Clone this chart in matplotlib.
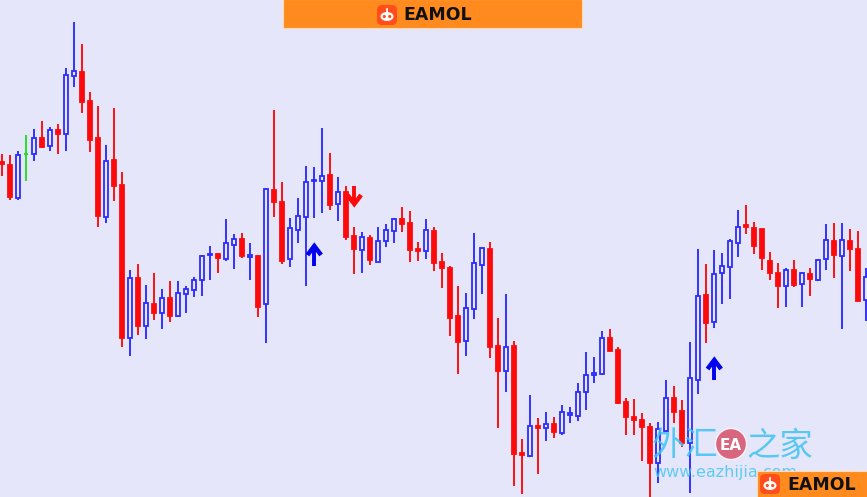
import numpy as np
import matplotlib
matplotlib.use('Agg')
import matplotlib.pyplot as plt
from matplotlib.patches import Rectangle, FancyBboxPatch, Ellipse, Circle

plt.rcParams['font.family'] = ['Noto Sans CJK SC', 'DejaVu Sans']

# price levels in points, one value per bar
opens = [338, 335, 302, 346, 346, 362, 354, 370, 366, 424,
         428, 399, 362, 283, 340, 315, 162, 222, 174, 196,
         187, 202, 184, 206, 210, 220, 245, 246, 241, 255,
         261, 243, 244, 196, 310, 298, 241, 270, 283, 319,
         319, 325, 296, 308, 264, 250, 262, 238, 259, 269,
         281, 277, 251, 249, 269, 238, 232, 184, 159, 191,
         235, 251, 154, 129, 154, 47, 44, 74, 72, 76,
         67, 85, 84, 108, 125, 126, 162, 150, 98, 83,
         80, 73, 37, 69, 102, 89, 57, 120, 205, 178,
         227, 233, 257, 275, 272, 271, 239, 227, 214, 230,
         216, 226, 220, 241, 259, 244, 259, 251, 200]
highs = [346, 345, 349, 365, 371, 379, 373, 376, 432, 478,
         456, 408, 394, 355, 392, 328, 230, 236, 215, 227,
         211, 219, 219, 214, 223, 245, 254, 247, 281, 266,
         267, 257, 245, 312, 390, 318, 282, 302, 334, 333,
         372, 347, 323, 314, 273, 268, 265, 273, 276, 282,
         293, 289, 258, 281, 273, 247, 234, 214, 207, 267,
         252, 258, 182, 206, 159, 61, 105, 82, 88, 83,
         95, 93, 117, 148, 143, 169, 171, 153, 102, 101,
         87, 77, 78, 120, 114, 100, 158, 251, 236, 250,
         247, 261, 290, 295, 278, 271, 248, 237, 232, 240,
         228, 232, 241, 276, 277, 277, 271, 269, 232]
lows = [324, 300, 300, 319, 339, 352, 349, 346, 349, 413,
        387, 348, 273, 277, 299, 153, 144, 165, 161, 180,
        171, 178, 183, 187, 203, 204, 220, 227, 239, 231,
        242, 220, 183, 157, 283, 236, 233, 257, 214, 282,
        287, 290, 279, 260, 226, 227, 235, 238, 253, 257,
        268, 238, 239, 241, 229, 212, 164, 126, 144, 181,
        206, 142, 72, 108, 14, 6, 43, 26, 59, 62,
        65, 77, 79, 90, 117, 125, 149, 96, 65, 65,
        39, 2, 17, 68, 77, 53, 7, 106, 157, 172,
        196, 201, 243, 266, 246, 230, 220, 192, 193, 213,
        193, 204, 219, 230, 222, 171, 229, 199, 179]
closes = [336, 303, 345, 346, 362, 353, 370, 366, 425, 429,
          398, 360, 284, 339, 314, 162, 222, 174, 197, 187,
          202, 184, 207, 211, 220, 244, 246, 242, 257, 261,
          244, 245, 193, 311, 298, 239, 272, 284, 318, 320,
          324, 295, 308, 263, 251, 263, 240, 259, 270, 281,
          276, 250, 249, 270, 237, 232, 182, 158, 192, 237,
          252, 153, 129, 153, 46, 45, 74, 72, 76, 68,
          88, 87, 108, 125, 127, 162, 149, 97, 83, 80,
          73, 37, 71, 102, 88, 57, 122, 204, 177, 226,
          234, 259, 273, 273, 254, 242, 227, 214, 230, 215,
          227, 221, 240, 260, 245, 260, 251, 199, 223]

# signal arrows: bar index and price of the arrow tip
buy_bars = [39, 89]
buy_tips = [254, 140]
sell_bars = [44]
sell_tips = [296]

BG = '#E6E6FA'
UP = '#2B2BFF'
DN = '#FF0A0A'
DOJI = '#22DD22'

W, H = 867, 497
fig = plt.figure(figsize=(W / 100, H / 100), dpi=100, facecolor=BG)
ax = fig.add_axes([0, 0, 1, 1])
ax.set_axis_off()

bw = 0.48
for i in range(len(opens)):
    o, h, l, c = opens[i], highs[i], lows[i], closes[i]
    if c > o:
        col, fc = UP, BG
    elif c < o:
        col, fc = DN, DN
    else:
        col, fc = DOJI, DOJI
    ax.vlines(i, l, h, color=col, lw=1.35, zorder=2)
    ax.add_patch(Rectangle((i - bw / 2, min(o, c)), bw, abs(c - o),
                           facecolor=fc, edgecolor=col, lw=1.3, zorder=3))

for x, tip in zip(buy_bars, buy_tips):
    ax.plot([x, x], [tip - 20, tip - 2], color='#0000F0', lw=2.8,
            solid_capstyle='butt', zorder=4)
    ax.plot([x - 0.85, x, x + 0.85], [tip - 9, tip, tip - 9], color='#0000F0',
            lw=3.2, solid_joinstyle='miter', solid_capstyle='butt', zorder=4)
for x, tip in zip(sell_bars, sell_tips):
    ax.plot([x, x], [tip + 18, tip + 2], color=DN, lw=2.8,
            solid_capstyle='butt', zorder=4)
    ax.plot([x - 0.85, x, x + 0.85], [tip + 9, tip, tip + 9], color=DN,
            lw=3.2, solid_joinstyle='miter', solid_capstyle='butt', zorder=4)

ax.set_xlim(-2.3 / 8, (W - 2.3) / 8)
ax.set_ylim(3, 500)

# overlay in pixel units for the watermarks
ov = fig.add_axes([0, 0, 1, 1], zorder=5)
ov.set_xlim(0, W)
ov.set_ylim(H, 0)
ov.set_axis_off()

# eazhijia watermark
wm = '#3EC3F2'
ov.text(652, 446, '外汇', color=wm, fontsize=24, alpha=0.85, fontweight='medium',
        ha='left', va='center', family=['Noto Sans CJK SC'])
ov.add_patch(Circle((731, 444), 15.5, facecolor='#D65068', edgecolor='white',
                    lw=1, alpha=0.85))
ov.text(731, 445, 'EA', color='white', fontsize=11, fontweight='bold',
        ha='center', va='center', family=['DejaVu Sans'])
ov.text(746, 446, '之家', color=wm, fontsize=24, alpha=0.85, fontweight='medium',
        ha='left', va='center', family=['Noto Sans CJK SC'])
ov.text(653, 473, 'www.eazhijia.com', color=wm, fontsize=11.5, alpha=0.8,
        ha='left', va='center', family=['DejaVu Sans'])


def eamol_badge(x0, y0, x1, y1, lx, ly, tx, ty):
    ov.add_patch(Rectangle((x0, y0), x1 - x0, y1 - y0, facecolor='#FF8A1E',
                           edgecolor='#FFD9B0', lw=0.8, zorder=6))
    ov.add_patch(FancyBboxPatch((lx, ly), 20, 20, boxstyle='round,pad=0,rounding_size=5',
                                facecolor='#FF4E1C', edgecolor='none', zorder=7))
    ov.add_patch(Ellipse((lx + 10, ly + 11.5), 13, 9, facecolor='white', zorder=8))
    ov.plot([lx + 10, lx + 10], [ly + 3.5, ly + 7], color='white', lw=1.2, zorder=8)
    ov.add_patch(Circle((lx + 7.3, ly + 11.5), 1.6, facecolor='#FF4E1C', zorder=9))
    ov.add_patch(Circle((lx + 12.7, ly + 11.5), 1.6, facecolor='#FF4E1C', zorder=9))
    ov.text(tx, ty, 'EAMOL', color='#111111', fontsize=12.5, fontweight='bold',
            ha='left', va='center', family=['DejaVu Sans'], zorder=9)


eamol_badge(283, -1, 582, 28, 377, 5, 403, 15.5)
eamol_badge(757, 471, 868, 498, 760, 474, 787, 485)

fig.savefig('out.png', dpi=100, facecolor=BG)
